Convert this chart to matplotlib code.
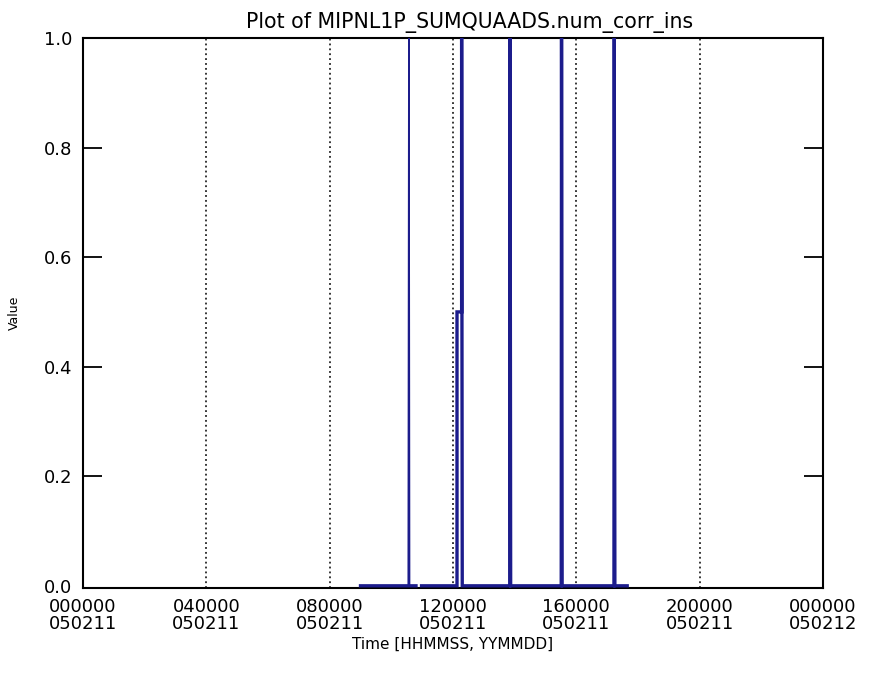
import numpy as np
import matplotlib
matplotlib.use("Agg")
import matplotlib.pyplot as plt

# Data (time in hours of 2005-02-11)
t_main = [9.00, 10.80, np.nan, 10.98, 12.13, 12.13, 12.28, 12.28, 12.30,
          13.84, 13.85, 13.87, 15.51, 15.52, 15.54, 17.22, 17.23, 17.25, 17.65]
v_main = [0, 0, np.nan, 0, 0, 0.5, 0.5, 1, 0,
          0, 1, 0, 0, 1, 0, 0, 1, 0, 0]
t_thin = [10.55, 10.57, 10.59]
v_thin = [0, 1, 0]

xticks = [0, 4, 8, 12, 16, 20, 24]
xticklabels = ["000000\n050211", "040000\n050211", "080000\n050211", "120000\n050211",
               "160000\n050211", "200000\n050211", "000000\n050212"]
grid_x = [4, 8, 12, 16, 20]
yticks = [0.0, 0.2, 0.4, 0.6, 0.8, 1.0]

fig = plt.figure(figsize=(8.73, 6.75), dpi=100)
ax = fig.add_axes([83/873, 87/675, 740/873, 550/675])

color = "#1c1c8c"
for gx in grid_x:
    ax.axvline(gx, color="black", linestyle=(0, (1.2, 2)), linewidth=1.1, zorder=1)
ax.plot(t_main, v_main, color=color, linewidth=2.4, zorder=3, solid_joinstyle="miter")
ax.plot(t_thin, v_thin, color=color, linewidth=1.2, zorder=3)

ax.set_xlim(0, 24)
ax.set_ylim(-0.004, 1.0)
ax.set_xticks(xticks)
ax.set_xticklabels(xticklabels, fontsize=13, linespacing=0.92)
ax.set_yticks(yticks)
ax.set_yticklabels([f"{y:.1f}" for y in yticks], fontsize=13)
ax.tick_params(axis="x", length=0, pad=7)
ax.tick_params(axis="y", direction="in", length=14, width=1.3, right=True, left=True, pad=8)
ax.yaxis.get_major_ticks()[0].tick1line.set_visible(False)
ax.yaxis.get_major_ticks()[0].tick2line.set_visible(False)
for s in ax.spines.values():
    s.set_linewidth(1.5)

ax.set_xlabel("Time [HHMMSS, YYMMDD]", fontsize=11, labelpad=3)
ax.set_ylabel("Value", fontsize=9, labelpad=16)
ax.set_title("Plot of MIPNL1P_SUMQUAADS.num_corr_ins", fontsize=14.8, pad=7, x=0.523)

fig.savefig("out.png", dpi=100)
